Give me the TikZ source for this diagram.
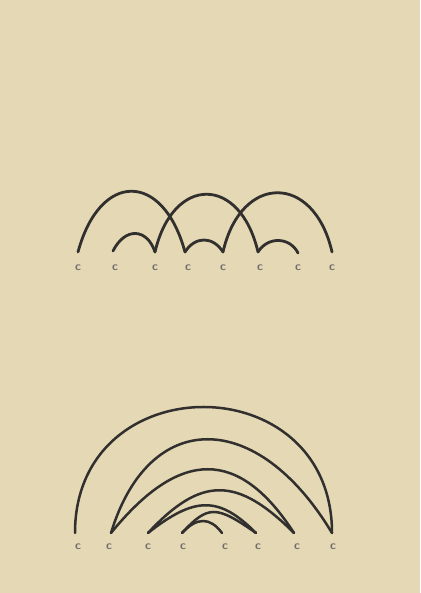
\documentclass[tikz,border=0pt]{standalone}
\usepackage{xcolor}
\usepackage{tikz}

\definecolor{paper}{RGB}{229,216,181}
\definecolor{ink}{RGB}{50,48,46}

\begin{document}
\begin{tikzpicture}[x=1pt,y=1pt]
        \tikzstyle{every path}=[line cap=round]
        \tikzstyle{bow}=[draw=ink,line width=2.5pt]
        \tikzstyle{thickbow}=[bow,line width=2.8pt]
        \tikzstyle{letter}=[font=\sffamily\large\bfseries,text=ink!70,inner sep=0pt]

        %% Paper
        \fill[paper] (0,0) rectangle (420,593);
        \useasboundingbox (0,0) rectangle (420,593);

        %% Upper figure: three crossing bows
        \begin{scope}
            % Feet
            \coordinate (tf_1) at (78,341);
            \coordinate (tf_2) at (113,342);
            \coordinate (tf_3) at (155,341);
            \coordinate (tf_4) at (185,341);
            \coordinate (tf_5) at (223,341);
            \coordinate (tf_6) at (258,341);
            \coordinate (tf_7) at (298,340);
            \coordinate (tf_8) at (332,341);

            % Letters
            \node[letter] (t_1) at (78,325) {c};
            \node[letter] (t_2) at (115,325) {c};
            \node[letter] (t_3) at (155,325) {c};
            \node[letter] (t_4) at (188,325) {c};
            \node[letter] (t_5) at (223,325) {c};
            \node[letter] (t_6) at (260,325) {c};
            \node[letter] (t_7) at (298,325) {c};
            \node[letter] (t_8) at (332,325) {c};

            % Bows
            \draw[thickbow] (tf_1) .. controls +(22,81) and +(-22,81) .. (tf_4);
            \draw[thickbow] (tf_3) .. controls +(18,77) and +(-18,77) .. (tf_6);
            \draw[thickbow] (tf_5) .. controls +(18,79) and +(-18,79) .. (tf_8);
            \draw[thickbow] (tf_2) .. controls +(12,24) and +(-8,24) .. (tf_3);
            \draw[thickbow] (tf_4) .. controls +(10,16) and +(-10,16) .. (tf_5);
            \draw[thickbow] (tf_6) .. controls +(10,16) and +(-8,16) .. (tf_7);
        \end{scope}

        %% Lower figure: nested bows
        \begin{scope}
            % Feet
            \coordinate (bf_1) at (75,60);
            \coordinate (bf_2) at (111,60);
            \coordinate (bf_3) at (148,60);
            \coordinate (bf_4) at (182,60);
            \coordinate (bf_5) at (222,60);
            \coordinate (bf_6) at (256,60);
            \coordinate (bf_7) at (294,60);
            \coordinate (bf_8) at (332,60);

            % Letters
            \node[letter] (b_1) at (78,46) {c};
            \node[letter] (b_2) at (109,46) {c};
            \node[letter] (b_3) at (148,46) {c};
            \node[letter] (b_4) at (183,46) {c};
            \node[letter] (b_5) at (225,46) {c};
            \node[letter] (b_6) at (258,46) {c};
            \node[letter] (b_7) at (297,46) {c};
            \node[letter] (b_8) at (333,46) {c};

            % Bows
            \draw[bow] (bf_1) .. controls +(0,168) and +(0,168) .. (bf_8);
            \draw[bow] (bf_2) .. controls +(38,125) and +(-75,125) .. (bf_8);
            \draw[bow] (bf_2) .. controls +(69,85) and +(-55,85) .. (bf_7);
            \draw[bow] (bf_3) .. controls +(53,57) and +(-57,57) .. (bf_7);
            \draw[bow] (bf_3) .. controls +(47,37) and +(-37,37) .. (bf_6);
            \draw[bow] (bf_4) .. controls +(26,28) and +(-40,28) .. (bf_6);
            \draw[bow] (bf_4) .. controls +(15,16) and +(-12,16) .. (bf_5);
        \end{scope}
\end{tikzpicture}
\end{document}
